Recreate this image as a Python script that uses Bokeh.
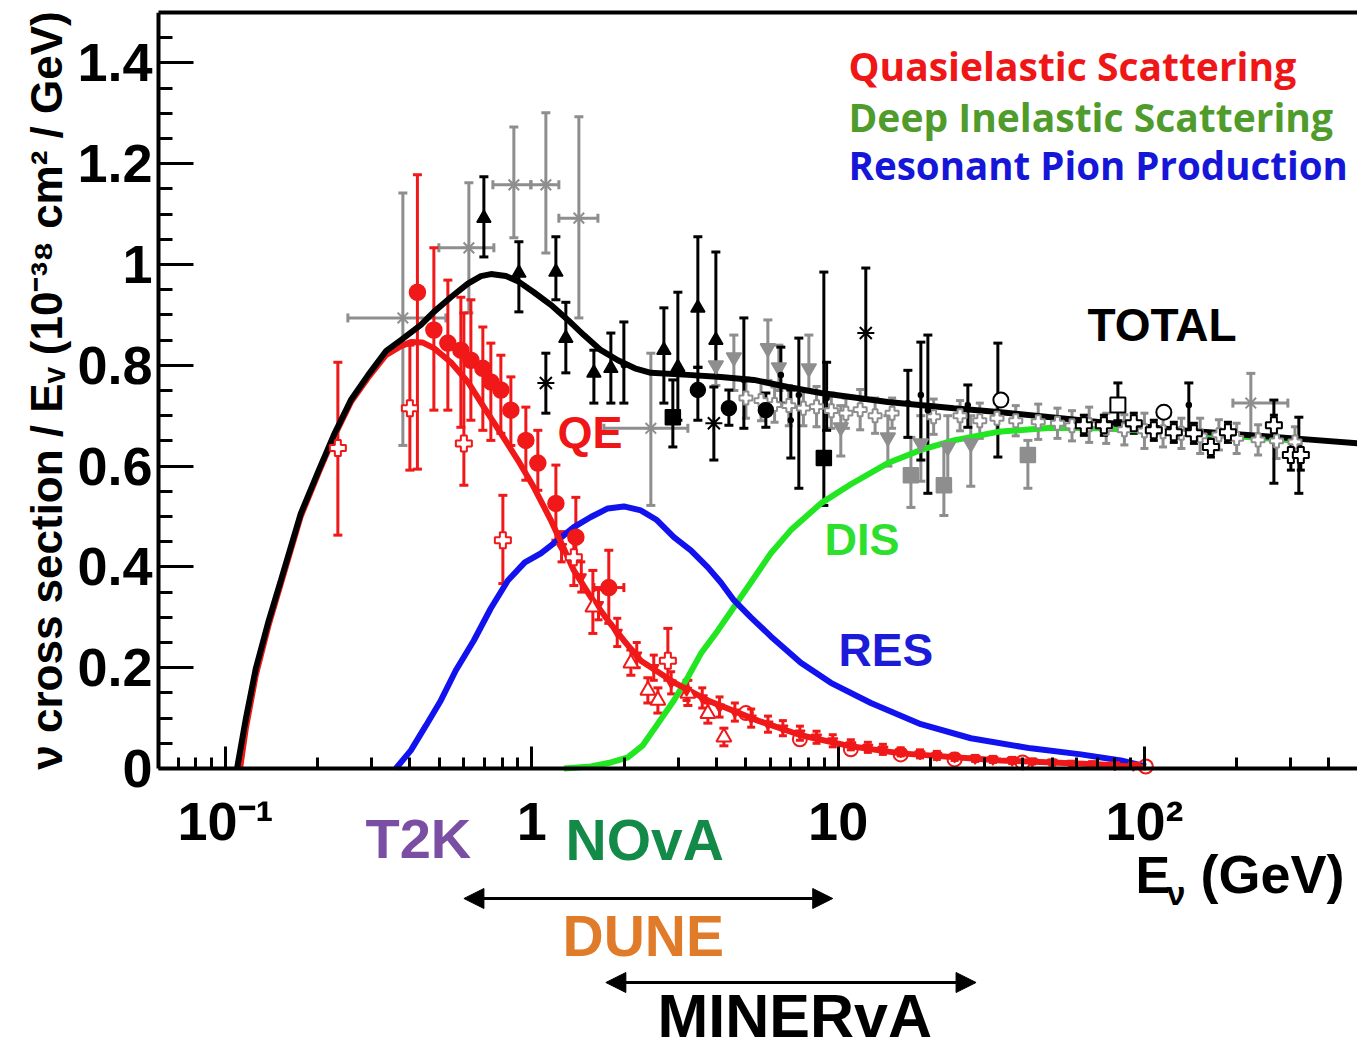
import math
from bokeh.plotting import figure
from bokeh.models import (ColumnDataSource, Whisker, TeeHead, Label, Arrow, NormalHead,
                          FixedTicker, LogAxis, Range1d)
from bokeh.embed import file_html
from bokeh.resources import INLINE

# ---------------- curves (E in GeV, sigma/E in 1e-38 cm^2/GeV) ----------------
tot_E = [0.109, 0.1165, 0.1256, 0.1384, 0.1515, 0.1761, 0.2016, 0.2258, 0.2565, 0.2915,
         0.3337, 0.3735, 0.4342, 0.4787, 0.5438, 0.6182, 0.6818, 0.7347, 0.8223, 0.900,
         1.015, 1.153, 1.311, 1.478, 1.680, 1.909, 2.169, 2.446, 3.231, 4.140, 5.306,
         6.851, 8.781, 14.53, 23.86, 33.98, 62.0, 131.5, 278.7, 497.5]
tot_s = [0.0, 0.099, 0.199, 0.294, 0.373, 0.506, 0.592, 0.662, 0.731, 0.780,
         0.828, 0.850, 0.880, 0.906, 0.935, 0.962, 0.977, 0.981, 0.977, 0.967,
         0.945, 0.920, 0.890, 0.860, 0.830, 0.810, 0.794, 0.785, 0.781, 0.777, 0.771,
         0.757, 0.745, 0.727, 0.715, 0.707, 0.691, 0.671, 0.657, 0.645]

qe_E = [0.1115, 0.1165, 0.1256, 0.1384, 0.1515, 0.1761, 0.2016, 0.2258, 0.2565, 0.2915,
        0.3337, 0.3735, 0.4027, 0.4406, 0.4787, 0.5438, 0.6182, 0.6972, 0.7921, 0.900,
        1.015, 1.153, 1.371, 1.558, 1.770, 1.997, 2.269, 2.908, 3.755, 5.468, 7.553,
        11.0, 16.02, 33.98, 72.06, 101.1]
qe_s = [0.0, 0.080, 0.186, 0.286, 0.367, 0.501, 0.588, 0.658, 0.727, 0.775,
        0.820, 0.838, 0.846, 0.845, 0.834, 0.806, 0.767, 0.717, 0.665, 0.612,
        0.558, 0.493, 0.393, 0.340, 0.294, 0.254, 0.214, 0.171, 0.135, 0.095, 0.066,
        0.044, 0.030, 0.016, 0.008, 0.002]

res_E = [0.3597, 0.4027, 0.4507, 0.5045, 0.5649, 0.6465, 0.7347, 0.8349, 0.9487, 1.070,
         1.216, 1.371, 1.558, 1.770, 1.997, 2.269, 2.559, 2.908, 3.304, 3.755, 4.140,
         4.566, 5.188, 6.030, 7.553, 9.467, 12.79, 18.62, 27.12, 42.58, 62.0, 83.75, 101.1]
res_s = [0.0, 0.036, 0.085, 0.135, 0.195, 0.254, 0.318, 0.373, 0.409, 0.427,
         0.453, 0.479, 0.499, 0.516, 0.520, 0.512, 0.493, 0.459, 0.433, 0.399, 0.369,
         0.334, 0.300, 0.262, 0.210, 0.170, 0.130, 0.088, 0.060, 0.040, 0.028, 0.016, 0.004]

dis_E = [1.272, 1.558, 1.811, 2.058, 2.303, 2.579, 2.908, 3.231, 3.563, 4.049, 4.566,
         5.188, 6.030, 7.007, 8.781, 11.0, 14.53, 18.62, 23.86, 33.22, 49.5, 72.06, 152.8, 324.0]
dis_s = [0.0, 0.004, 0.012, 0.022, 0.046, 0.089, 0.135, 0.181, 0.228, 0.274, 0.320,
         0.369, 0.427, 0.473, 0.526, 0.564, 0.606, 0.632, 0.651, 0.668, 0.676, 0.675, 0.664, 0.650]

# ---------------- QE data (red) ----------------
qec_E = [0.423, 0.4787, 0.5318, 0.5864, 0.6323, 0.6918, 0.7347, 0.7921, 0.854, 0.9559, 1.046, 1.198, 1.392, 1.783]
qec_s = [0.945, 0.870, 0.844, 0.830, 0.810, 0.794, 0.767, 0.751, 0.711, 0.651, 0.606, 0.526, 0.459, 0.359]
qec_lo = [0.594, 0.711, 0.711, 0.677, 0.691, 0.671, 0.651, 0.665, 0.641, 0.572, 0.552, 0.453, 0.413, 0.288]
qec_hi = [1.178, 1.033, 0.969, 0.935, 0.930, 0.876, 0.844, 0.820, 0.777, 0.717, 0.671, 0.602, 0.538, 0.433]
qech_s = [0.359]
qech_lo = [1.594]
qech_hi = [1.997]

qex_E = [0.2326, 0.3997, 0.5998, 0.8042, 1.371, 2.78]
qex_s = [0.636, 0.715, 0.645, 0.453, 0.419, 0.214]
qex_lo = [0.463, 0.592, 0.562, 0.367, 0.363, 0.175]
qex_hi = [0.806, 0.840, 0.904, 0.542, 0.473, 0.278]

qet_E = [1.582, 2.105, 2.392, 2.579, 3.231, 3.755, 4.236]
qet_s = [0.320, 0.209, 0.155, 0.135, 0.149, 0.109, 0.062]
qet_lo = [0.268, 0.185, 0.130, 0.110, 0.125, 0.090, 0.045]
qet_hi = [0.393, 0.235, 0.180, 0.160, 0.175, 0.130, 0.080]

qed_E = [1.25, 1.45, 1.65, 1.9, 2.2, 2.5, 2.85, 3.2, 3.6, 4.1, 4.6, 5.2, 5.9, 6.6, 7.5, 8.5,
         9.6, 11, 12.5, 14, 16, 18.5, 21, 24, 28, 32, 37, 43, 50, 58, 68, 80, 92]
qed_s = [0.44, 0.38, 0.325, 0.27, 0.225, 0.2, 0.17, 0.155, 0.14, 0.122, 0.112, 0.1, 0.088, 0.08,
         0.07, 0.062, 0.055, 0.047, 0.042, 0.038, 0.033, 0.029, 0.026, 0.023, 0.02, 0.018,
         0.016, 0.014, 0.012, 0.01, 0.009, 0.007, 0.006]
qed_err = [0.03, 0.03, 0.03, 0.028, 0.025, 0.025, 0.022, 0.02, 0.02, 0.02, 0.018, 0.018, 0.016,
           0.015, 0.014, 0.012, 0.012, 0.01, 0.01, 0.01, 0.008, 0.008, 0.008, 0.007, 0.006,
           0.006, 0.006, 0.005, 0.005, 0.004, 0.004, 0.004, 0.004]

qeo_E = [5.0, 7.5, 11.0, 16.0, 24.0, 40.0, 101.0]
qeo_s = [0.11, 0.058, 0.038, 0.028, 0.018, 0.012, 0.004]

# ---------------- TOTAL data (black) ----------------
tt_E = [0.6972, 0.907, 1.198, 1.291, 1.594, 1.811, 2.698, 2.997, 3.483, 3.988]
tt_s = [1.092, 0.983, 0.985, 0.854, 0.785, 0.794, 0.830, 0.796, 0.914, 0.850]
tt_lo = [1.015, 0.906, 0.930, 0.785, 0.725, 0.725, 0.725, 0.691, 0.796, 0.777]
tt_hi = [1.174, 1.045, 1.055, 0.925, 0.830, 0.864, 0.914, 0.945, 1.055, 1.025]

tc_E = [3.483, 4.398, 5.807]
tc_s = [0.751, 0.715, 0.711]
tc_lo = [0.691, 0.681, 0.677]
tc_hi = [0.796, 0.751, 0.745]

tsq_E = [2.886, 8.98]
tsq_s = [0.697, 0.616]
tsq_lo = [0.638, 0.522]
tsq_hi = [0.771, 0.985]

tst_E = [1.111, 3.928, 12.31]
tst_s = [0.765, 0.685, 0.864]
tst_lo = [0.705, 0.612, 0.731]
tst_hi = [0.824, 0.757, 0.993]

tb_E = [1.997, 4.922, 6.50, 7.007, 7.441, 9.17, 16.89, 18.62, 19.63, 26.51, 33.22, 139.6, 264.6, 319.2]
tb_s = [0.80, 0.771, 0.781, 0.691, 0.741, 0.735, 0.725, 0.741, 0.711, 0.721, 0.731, 0.721, 0.671, 0.62]
tb_lo = [0.725, 0.675, 0.725, 0.616, 0.556, 0.671, 0.657, 0.612, 0.546, 0.677, 0.618, 0.671, 0.566, 0.546]
tb_hi = [0.886, 0.894, 0.836, 0.751, 0.854, 0.806, 0.790, 0.846, 0.860, 0.761, 0.844, 0.765, 0.731, 0.697]

tp_E = [63.4, 73.7, 92.3, 107.3, 124.7, 145.0, 164.8, 187.3, 264.6, 300.6, 324.0]
tp_s = [0.681, 0.681, 0.685, 0.671, 0.667, 0.665, 0.638, 0.667, 0.681, 0.622, 0.622]
tp_err = [0.02, 0.02, 0.02, 0.02, 0.02, 0.02, 0.02, 0.02, 0.02, 0.03, 0.03]

tos_E = [81.9]
tos_s = [0.721]
tos_lo = [0.69]
tos_hi = [0.765]
toc_E = [33.98, 115.7]
toc_s = [0.731, 0.707]

# ---------------- grey data ----------------
gx_E = [0.3792, 0.6228, 0.8734, 1.111, 1.424, 2.446, 222.5]
gx_s = [0.894, 1.033, 1.158, 1.158, 1.092, 0.675, 0.725]
gx_lo = [0.641, 0.904, 1.053, 1.023, 0.894, 0.522, 0.657]
gx_hi = [1.142, 1.162, 1.273, 1.301, 1.293, 0.824, 0.784]
gx_xlo = [0.2508, 0.497, 0.746, 0.9925, 1.225, 1.718, 194.4]
gx_xhi = [0.5238, 0.7516, 0.9925, 1.225, 1.643, 3.231, 293.9]

gt_E = [3.988, 4.566, 5.895, 6.404, 8.023, 10.2, 14.53, 18.62, 22.8, 27.1]
gt_s = [0.800, 0.816, 0.834, 0.796, 0.794, 0.677, 0.657, 0.645, 0.638, 0.645]
gt_lo = [0.76, 0.75, 0.77, 0.75, 0.75, 0.62, 0.60, 0.57, 0.55, 0.56]
gt_hi = [0.85, 0.86, 0.89, 0.84, 0.86, 0.72, 0.70, 0.70, 0.70, 0.70]

gs_E = [17.28, 22.14, 41.63]
gs_s = [0.582, 0.562, 0.622]
gs_lo = [0.518, 0.502, 0.556]
gs_hi = [0.657, 0.645, 0.651]

gp_E = [5.0, 5.6, 6.2, 6.9, 7.7, 8.5, 9.5, 10.6, 11.8, 13.2, 15.0, 20.5, 25, 29, 33, 38, 45,
        52, 58, 66, 75, 86, 100, 115, 132, 152, 175, 200, 235, 270, 310]
gp_s = [0.735, 0.73, 0.722, 0.72, 0.715, 0.718, 0.71, 0.705, 0.712, 0.70, 0.705, 0.698, 0.70,
        0.69, 0.695, 0.69, 0.688, 0.685, 0.68, 0.682, 0.675, 0.672, 0.67, 0.668, 0.665, 0.66,
        0.662, 0.655, 0.652, 0.65, 0.648]
gp_err = [0.04, 0.04, 0.035, 0.04, 0.035, 0.04, 0.035, 0.03, 0.04, 0.035, 0.03, 0.035, 0.03,
          0.035, 0.03, 0.03, 0.035, 0.03, 0.03, 0.035, 0.03, 0.03, 0.035, 0.03, 0.03, 0.035,
          0.03, 0.03, 0.03, 0.035, 0.03]

# experiment energy ranges (arrows, GeV)
dune_range = [0.60, 9.6]
minerva_range = [1.744, 28.2]

# ---------------- ticks ----------------
x_major = [0.1, 1, 10, 100]
x_minor = [0.07, 0.08, 0.09, 0.2, 0.3, 0.4, 0.5, 0.6, 0.7, 0.8, 0.9, 2, 3, 4, 5, 6, 7, 8, 9,
           20, 30, 40, 50, 60, 70, 80, 90, 200, 300, 400]
x_labels = {0.1: "10⁻¹", 1: "1", 10: "10", 100: "10²"}
y_major = [0, 0.2, 0.4, 0.6, 0.8, 1.0, 1.2, 1.4]
y_minor = [0.05, 0.1, 0.15, 0.25, 0.3, 0.35, 0.45, 0.5, 0.55, 0.65, 0.7, 0.75, 0.85, 0.9,
           0.95, 1.05, 1.1, 1.15, 1.25, 1.3, 1.35, 1.45]
y_labels = {0: "0", 0.2: "0.2", 0.4: "0.4", 0.6: "0.6", 0.8: "0.8", 1.0: "1", 1.2: "1.2", 1.4: "1.4"}
x_lo, x_hi = 0.0604, 496.1     # visible axis extent (GeV)
y_lo, y_hi = 0.0, 1.5

RED = "#f01818"
GREY = "#8e8e8e"
BLACK = "#000000"
BLUE = "#1212ee"
GREEN = "#22e622"
FONT = "Liberation Sans"

# ---- layout: the frame covers the canvas; axes are drawn at fixed locations ----
W, H, TOP = 1357, 1051, 12
AX_LEFT_PX, AX_BOTTOM_PX = 158, 768
PX = (AX_BOTTOM_PX - TOP) / (y_hi - y_lo)                # px per y unit
DEC = (W - AX_LEFT_PX) / (math.log10(x_hi) - math.log10(x_lo))  # px per decade


def ex(px):   # canvas x pixel -> energy
    return 10 ** (math.log10(x_lo) + (px - AX_LEFT_PX) / DEC)


def sy(py):   # canvas y pixel -> sigma
    return (AX_BOTTOM_PX - py) / PX


p = figure(width=W, height=H, x_axis_type="log",
           x_range=Range1d(ex(0), ex(W)), y_range=Range1d(sy(H), y_hi),
           output_backend="svg", toolbar_location=None,
           min_border_left=0, min_border_right=0, min_border_top=TOP, min_border_bottom=0)
p.grid.visible = False
p.outline_line_color = None
p.background_fill_color = "white"
p.border_fill_color = "white"

xa = p.xaxis[0]
xa.fixed_location = 0
xa.bounds = (x_lo, x_hi)
xa.ticker = FixedTicker(ticks=x_major, minor_ticks=x_minor)
xa.major_label_overrides = x_labels
ya = p.yaxis[0]
ya.fixed_location = x_lo
ya.bounds = (y_lo, y_hi)
ya.ticker = FixedTicker(ticks=y_major, minor_ticks=y_minor)
ya.major_label_overrides = y_labels
for ax in (xa, ya):
    ax.axis_line_width = 4
    ax.axis_line_color = "black"
    ax.major_tick_line_width = 3
    ax.minor_tick_line_width = 3
    ax.major_tick_out = 0
    ax.minor_tick_out = 0
    ax.major_label_text_font = FONT
    ax.major_label_text_font_style = "bold"
    ax.major_label_text_font_size = "54px"
    ax.major_label_text_color = "black"
xa.major_tick_in = 22
xa.minor_tick_in = 11
xa.major_label_standoff = 22
ya.major_tick_in = 35
ya.minor_tick_in = 14
ya.major_label_standoff = 6

top = LogAxis(ticker=FixedTicker(ticks=[]), axis_line_width=4, axis_line_color="black",
              bounds=(x_lo, x_hi), major_label_text_font_size="0px",
              major_tick_line_color=None, minor_tick_line_color=None)
p.add_layout(top, "above")


def bars(E, lo, hi, color, lw=3, head=9, dim="height"):
    src = ColumnDataSource(dict(b=E, lo=lo, hi=hi))
    w = Whisker(source=src, base="b", lower="lo", upper="hi", dimension=dim,
                line_color=color, line_width=lw, level="underlay",
                upper_head=TeeHead(size=head, line_color=color, line_width=lw),
                lower_head=TeeHead(size=head, line_color=color, line_width=lw))
    p.add_layout(w)


def pts(E, s, marker, size, fill, line, lw=1.5):
    p.scatter(x=E, y=s, marker=marker, size=size, fill_color=fill, line_color=line, line_width=lw)


def minus(a, b):
    return [x - y for x, y in zip(a, b)]


def plus(a, b):
    return [x + y for x, y in zip(a, b)]


# curves
p.line(dis_E, dis_s, line_color=GREEN, line_width=6)
p.line(res_E, res_s, line_color=BLUE, line_width=6)
p.line(qe_E, qe_s, line_color=RED, line_width=6)
p.line(tot_E, tot_s, line_color=BLACK, line_width=6)

# grey data
bars(gx_E, gx_lo, gx_hi, GREY)
bars(gx_s, gx_xlo, gx_xhi, GREY, dim="width")
pts(gx_E, gx_s, "asterisk", 15, GREY, GREY, 2)
bars(gp_E, minus(gp_s, gp_err), plus(gp_s, gp_err), GREY, head=8)
pts(gp_E, gp_s, "plus", 13, "white", GREY, 2)
bars(gt_E, gt_lo, gt_hi, GREY)
pts(gt_E, gt_s, "inverted_triangle", 15, GREY, GREY)
bars(gs_E, gs_lo, gs_hi, GREY)
pts(gs_E, gs_s, "square", 15, GREY, GREY)

# black data
bars(tt_E, tt_lo, tt_hi, BLACK)
pts(tt_E, tt_s, "triangle", 14, BLACK, BLACK)
bars(tc_E, tc_lo, tc_hi, BLACK)
pts(tc_E, tc_s, "circle", 15, BLACK, BLACK)
bars(tsq_E, tsq_lo, tsq_hi, BLACK)
pts(tsq_E, tsq_s, "square", 15, BLACK, BLACK)
bars(tst_E, tst_lo, tst_hi, BLACK)
pts(tst_E, tst_s, "asterisk", 17, BLACK, BLACK, 2)
bars(tb_E, tb_lo, tb_hi, BLACK)
pts(tb_E, tb_s, "circle", 5, BLACK, BLACK)
bars(tp_E, minus(tp_s, tp_err), plus(tp_s, tp_err), BLACK, head=8)
pts(tp_E, tp_s, "plus", 16, "white", BLACK, 2)
bars(tos_E, tos_lo, tos_hi, BLACK)
pts(tos_E, tos_s, "square", 15, "white", BLACK, 2)
pts(toc_E, toc_s, "circle", 15, "white", BLACK, 2)

# red data
bars(qec_E, qec_lo, qec_hi, RED)
bars(qech_s, qech_lo, qech_hi, RED, dim="width")
pts(qec_E, qec_s, "circle", 16, RED, RED)
bars(qex_E, qex_lo, qex_hi, RED)
pts(qex_E, qex_s, "plus", 16, "white", RED, 2)
bars(qet_E, qet_lo, qet_hi, RED)
pts(qet_E, qet_s, "triangle", 15, "white", RED, 2)
bars(qed_E, minus(qed_s, qed_err), plus(qed_s, qed_err), RED, head=8)
pts(qed_E, qed_s, "inverted_triangle", 10, RED, RED)
pts(qeo_E, qeo_s, "circle", 14, None, RED, 2)


def label(px, py_base, text, size, color, font=FONT):
    # px: left edge, py_base: wanted baseline, both in canvas pixels
    shift = 0.39 * size  # svg text sits lower than the requested baseline
    p.add_layout(Label(x=ex(px), y=sy(py_base - shift), text=text, text_font=font,
                       text_font_style="bold", text_font_size=f"{size}px", text_color=color,
                       text_align="left", text_baseline="alphabetic"))


# y axis title (rotated)
p.add_layout(Label(x=ex(46), y=sy(390), text="ν cross section / Eᵥ (10⁻³⁸ cm² / GeV)",
                   angle=math.pi / 2, text_font=FONT, text_font_style="bold",
                   text_font_size="44px", text_color="black", text_align="center",
                   text_baseline="middle"))

# legend texts
label(848, 80, "Quasielastic Scattering", 39, "#ee1616", "Open Sans")
label(848, 131, "Deep Inelastic Scattering", 39, "#4f9c2c", "Open Sans")
label(848, 180, "Resonant Pion Production", 38.5, "#1616d8", "Open Sans")

# curve labels
label(1087, 342, "TOTAL", 46, "black")
label(557, 450, "QE", 45, "#ee1616")
label(824, 557, "DIS", 45, "#2ee02e")
label(838, 667, "RES", 46, "#1b1bd8")

# below-axis annotations
label(365, 860, "T2K", 56, "#7a4ea2")
label(565, 862, "NOvA", 57, "#138a48")
label(562, 958, "DUNE", 57, "#e07b2a")
label(657, 1039, "MINERvA", 61, "black")
label(1135, 895, "E", 52, "black")
label(1166, 906, "ν", 34, "black")
label(1200, 895, "(GeV)", 54, "black")

for rng, ypx in ((dune_range, 898), (minerva_range, 982)):
    p.add_layout(Arrow(x_start=rng[0], y_start=sy(ypx), x_end=rng[1], y_end=sy(ypx),
                       line_width=3, line_color="black",
                       start=NormalHead(size=20, fill_color="black", line_color="black"),
                       end=NormalHead(size=20, fill_color="black", line_color="black")))

open("out.html", "w").write(file_html(p, INLINE))
